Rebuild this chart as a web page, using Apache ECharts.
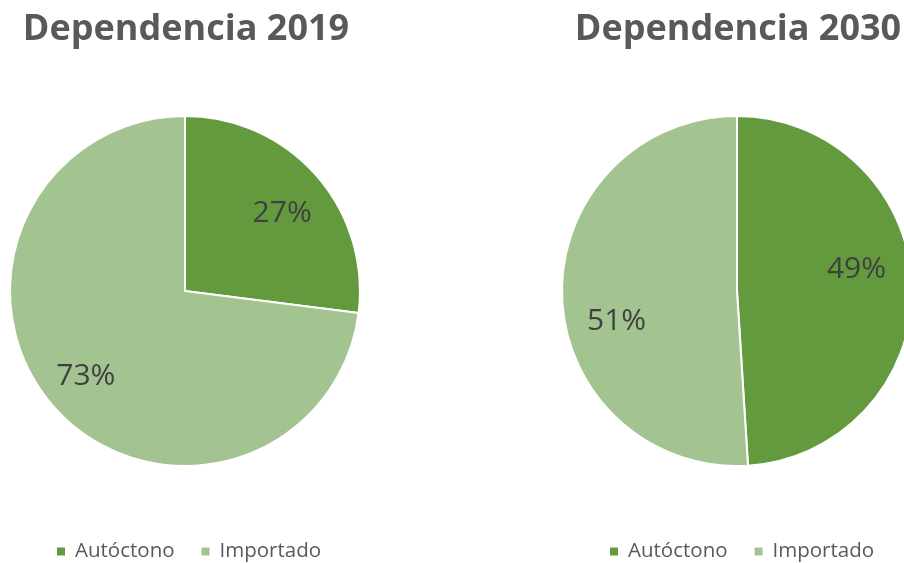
<!DOCTYPE html>
<html>
<head>
<meta charset="utf-8">
<script src="https://cdn.jsdelivr.net/npm/echarts@6/dist/echarts.min.js"></script>
<style>
  html, body { margin: 0; padding: 0; background: #fff; }
  #chart { width: 904px; height: 563px; }
</style>
</head>
<body>
<div id="chart"></div>
<script>
const categories = ['Autóctono', 'Importado'];
const titles = ['Dependencia 2019', 'Dependencia 2030'];
const values2019 = [27, 73];
const values2030 = [49, 51];
const colors = ['#629a3d', '#a3c491'];

const chart = echarts.init(document.getElementById('chart'));
const font = '"Open Sans", sans-serif';

function toData(values) {
  return categories.map((name, i) => ({ name, value: values[i] }));
}

// pie with the slices, no labels
function pieSeries(values, cx) {
  return {
    type: 'pie',
    center: [cx, 291],
    radius: [0, 175],
    startAngle: 90,
    clockwise: true,
    data: toData(values),
    label: { show: false },
    labelLine: { show: false },
    itemStyle: { borderColor: '#fff', borderWidth: 2 },
    emphasis: { disabled: true },
    animation: false,
  };
}

// transparent ring only to place the percent labels further out
// nudge = small [dx, dy] shifts per slice, like excel's best fit
function labelSeries(values, cx, nudge) {
  return {
    type: 'pie',
    center: [cx, 291],
    radius: [78, 175],
    startAngle: 90,
    clockwise: true,
    silent: true,
    data: toData(values),
    itemStyle: { color: 'rgba(0,0,0,0)' },
    label: {
      show: true,
      position: 'inside',
      formatter: '{c}%',
      fontFamily: font,
      fontSize: 30,
      color: '#404040',
    },
    labelLayout: (p) => ({ dx: nudge[p.dataIndex][0], dy: nudge[p.dataIndex][1] }),
    labelLine: { show: false },
    emphasis: { disabled: true },
    animation: false,
  };
}

function legend(left) {
  return {
    left,
    top: 541,
    padding: 0,
    data: categories,
    icon: 'rect',
    itemWidth: 8,
    itemHeight: 8,
    itemGap: 27,
    itemStyle: { borderWidth: 0 },
    selectedMode: false,
    textStyle: { fontFamily: font, fontSize: 20.5, color: '#595959', padding: [0, 0, 0, 5] },
  };
}

const titleStyle = { fontFamily: font, fontSize: 36, fontWeight: 'bold', color: '#595959' };

chart.setOption({
  color: colors,
  title: [
    { text: titles[0], left: 181, top: 7, textAlign: 'center', textStyle: titleStyle },
    { text: titles[1], left: 733, top: 7, textAlign: 'center', textStyle: titleStyle },
  ],
  legend: [legend(57), legend(610)],
  series: [
    pieSeries(values2019, 185),
    pieSeries(values2030, 737),
    labelSeries(values2019, 185, [[0, 8], [-2, 0]]),
    labelSeries(values2030, 737, [[-10, -17], [9, 26]]),
  ],
});
</script>
</body>
</html>
